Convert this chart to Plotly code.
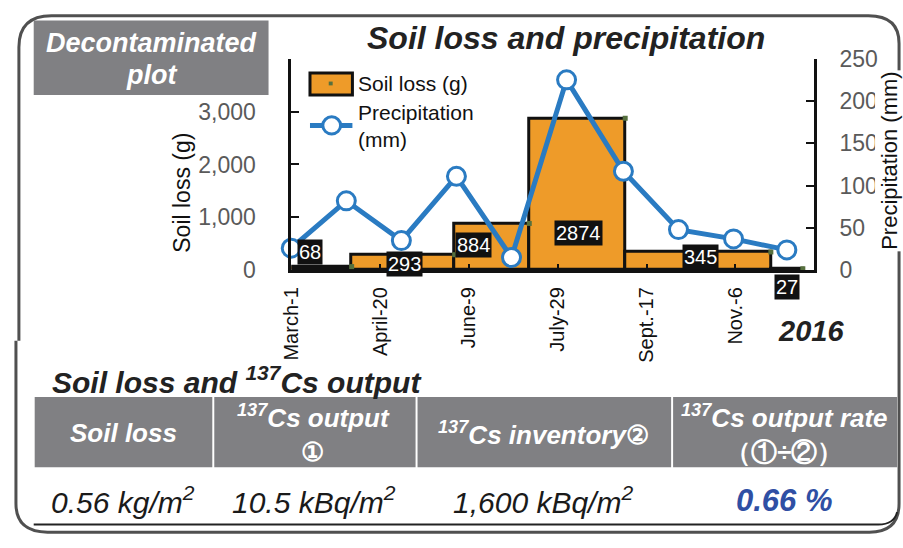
import plotly.graph_objects as go

W, H = 903, 548

# Soil loss collected per sampling period (days since March 1, 2016)
period_edges = [0, 34, 92, 134, 188, 270, 288]
soil_loss_g = [68, 293, 884, 2874, 345, 27]

# Monthly precipitation (days since March 1, 2016)
precip_days = [0, 31, 62, 93, 124, 155, 187, 218, 249, 279]
precip_mm = [26, 82, 35, 111, 15, 225, 117, 48, 37, 24]

date_ticks = [0, 50, 100, 150, 200, 250]
date_labels = ["March-1", "April-20", "June-9", "July-29", "Sept.-17", "Nov.-6"]

soil_ticks = [0, 1000, 2000, 3000, 4000]
soil_tick_labels = ["0", "1,000", "2,000", "3,000", ""]
precip_ticks = [0, 50, 100, 150, 200, 250]

table_headers = [
    "<b><i>Soil loss</i></b>",
    "<b><i><sup>137</sup>Cs output</i></b><br><b>①</b>",
    "<b><i><sup>137</sup>Cs inventory</i>②</b>",
    "<b><i><sup>137</sup>Cs output rate</i></b><br><b>（①÷②）</b>",
]
table_values = [
    "0.56 kg/m<sup>2</sup>",
    "10.5 kBq/m<sup>2</sup>",
    "1,600 kBq/m<sup>2</sup>",
    "0.66 %",
]

ORANGE = "#EE9B29"
BLUE = "#2A7BC2"
GRAY_BOX = "#808083"
FONT = "Liberation Sans, Arial, sans-serif"


def fx(px):
    return px / W


def fy(py):
    return 1 - py / H


def path(points):
    """Build an SVG path in paper units from (cmd, x, y, ...) pixel tuples."""
    parts = []
    for p in points:
        cmd, coords = p[0], p[1:]
        xy = []
        for i in range(0, len(coords), 2):
            xy.append(f"{fx(coords[i]):.5f},{fy(coords[i + 1]):.5f}")
        parts.append(cmd + " " + " ".join(xy))
    return " ".join(parts)


centers = [(a + b) / 2 for a, b in zip(period_edges[:-1], period_edges[1:])]
widths = [b - a for a, b in zip(period_edges[:-1], period_edges[1:])]
right_edges = period_edges[1:]

fig = go.Figure()

fig.add_trace(go.Bar(
    x=centers, y=soil_loss_g, width=widths,
    marker=dict(color=ORANGE, line=dict(color="#111111", width=3)),
    showlegend=False, hoverinfo="skip",
))
fig.add_trace(go.Scatter(
    x=right_edges, y=soil_loss_g, mode="markers",
    marker=dict(symbol="square", size=5, color="#56703E"),
    showlegend=False, cliponaxis=False, hoverinfo="skip",
))
fig.add_trace(go.Scatter(
    x=precip_days, y=precip_mm, yaxis="y2", mode="lines+markers",
    line=dict(color=BLUE, width=5),
    marker=dict(symbol="circle", size=18, color="white",
                line=dict(color=BLUE, width=3)),
    showlegend=False, cliponaxis=False,
))

annotations = []

# value labels on the soil-loss bars (pixel offsets from the bar base)
label_offsets = [(-11, 18), (1, 6), (-18, 25), (1, 37), (2, 13), (0, -17)]
for c, v, (dx, dy) in zip(centers, soil_loss_g, label_offsets):
    annotations.append(dict(
        x=c, y=0, xref="x", yref="y", text=str(v), showarrow=False,
        xshift=dx, yshift=dy, bgcolor="#111111", borderpad=1,
        font=dict(family=FONT, size=20, color="white"),
    ))

def note(px, py, text, size, color="#222222", xanchor="center", **kw):
    annotations.append(dict(
        x=fx(px), y=fy(py), xref="paper", yref="paper", text=text,
        showarrow=False, xanchor=xanchor, yanchor="middle",
        font=dict(family=FONT, size=size, color=color), **kw,
    ))

note(561, 26, "<b><i>Soil loss and precipitation</i></b>", 32)
note(141, 31, "<b><i>Decontaminated</i></b>", 27, color="white")
note(141, 65, "<b><i>plot</i></b>", 27, color="white")
note(810, 334, "<b><i>2016</i></b>", 29)

# axis titles
note(172, 189, "Soil loss (g)", 23, color="#111111", textangle=-90)
note(889, 155, "Precipitation (mm)", 22, color="#111111", textangle=-90,
     bgcolor="white")

# legend
note(349, 74, "Soil loss (g)", 21, color="#111111", xanchor="left")
note(349, 104, "Precipitation", 21, color="#111111", xanchor="left")
note(349, 133, "(mm)", 21, color="#111111", xanchor="left")

# table
note(228, 385, "<b><i>Soil loss and <sup>137</sup>Cs output</i></b>", 30)
col_edges = [23, 203, 409, 668, 897]
for i, (h, v) in enumerate(zip(table_headers, table_values)):
    cx = (col_edges[i] + col_edges[i + 1]) / 2
    note(cx, 441, h, 26, color="white")
    if i == len(table_values) - 1:
        note(cx, 512, f"<b><i>{v}</i></b>", 31, color="#2F4FA4")
    else:
        note(cx, 511, f"<i>{v}</i>", 30, color="#1a1a1a")

shapes = []

# header cells
for i in range(len(table_headers)):
    shapes.append(dict(
        type="rect", xref="paper", yref="paper",
        x0=fx(col_edges[i] + (0 if i == 0 else 2)), x1=fx(col_edges[i + 1]),
        y0=fy(477), y1=fy(403), fillcolor=GRAY_BOX, line=dict(width=0),
        layer="below",
    ))

# label box
shapes.append(dict(
    type="rect", xref="paper", yref="paper",
    x0=fx(22), x1=fx(260), y0=fy(86), y1=fy(8),
    fillcolor=GRAY_BOX, line=dict(width=0), layer="below",
))

# rounded outer frame: upper panel and lower panel
shapes.append(dict(
    type="path", xref="paper", yref="paper", layer="above",
    path=path([("M", 7, 344), ("L", 7, 36), ("Q", 7, 3, 40, 3),
               ("L", 868, 3), ("Q", 899, 3, 899, 32), ("L", 899, 515),
               ("Q", 899, 545, 869, 545), ("L", 36, 545),
               ("Q", 4, 545, 4, 515), ("L", 4, 344)]),
    line=dict(color="#505050", width=3),
))
# lower panel rule
shapes.append(dict(
    type="path", xref="paper", yref="paper", layer="above",
    path=path([("M", 22, 537), ("L", 878, 537), ("Q", 894, 537, 897, 524)]),
    line=dict(color="#222222", width=2),
))

# legend symbols
shapes.append(dict(
    type="rect", xref="paper", yref="paper",
    x0=fx(302), x1=fx(345), y0=fy(86), y1=fy(63),
    fillcolor=ORANGE, line=dict(color="#111111", width=3), layer="above",
))
shapes.append(dict(
    type="rect", xref="paper", yref="paper",
    x0=fx(321), x1=fx(325), y0=fy(76), y1=fy(72),
    fillcolor="#56703E", line=dict(width=0), layer="above",
))
shapes.append(dict(
    type="line", xref="paper", yref="paper",
    x0=fx(302), x1=fx(345), y0=fy(118), y1=fy(118),
    line=dict(color=BLUE, width=5), layer="above",
))
shapes.append(dict(
    type="circle", xref="paper", yref="paper",
    x0=fx(315), x1=fx(333), y0=fy(127), y1=fy(109),
    fillcolor="white", line=dict(color=BLUE, width=3), layer="above",
))

fig.update_layout(
    width=W, height=H,
    margin=dict(l=0, r=0, t=0, b=0, pad=0),
    paper_bgcolor="white", plot_bgcolor="white",
    font=dict(family=FONT),
    bargap=0,
    xaxis=dict(
        domain=[fx(283), fx(813)], range=[0, 294.4],
        tickvals=date_ticks, ticktext=date_labels, tickangle=-90,
        ticks="inside", ticklen=6, tickwidth=2, tickcolor="#111111",
        showline=True, linecolor="#111111", linewidth=3,
        showgrid=False, zeroline=False,
        tickfont=dict(family=FONT, size=20, color="#111111"),
        ticklabelstandoff=6,
    ),
    yaxis=dict(
        domain=[fy(270), fy(48)], range=[0, 4000],
        tickvals=soil_ticks, ticktext=soil_tick_labels,
        ticks="inside", ticklen=8, tickwidth=2, tickcolor="#111111",
        showline=True, linecolor="#111111", linewidth=2.5,
        showgrid=False, zeroline=False,
        tickfont=dict(family=FONT, size=23, color="#5a5a5a"),
        ticklabelstandoff=28,
    ),
    yaxis2=dict(
        overlaying="y", side="right", range=[0, 250],
        tickvals=precip_ticks,
        ticks="inside", ticklen=8, tickwidth=2, tickcolor="#111111",
        showline=True, linecolor="#111111", linewidth=2.5,
        showgrid=False, zeroline=False,
        tickfont=dict(family=FONT, size=23, color="#5a5a5a"),
        ticklabelstandoff=18,
    ),
    annotations=annotations,
    shapes=shapes,
)

fig.write_html("out.html")
